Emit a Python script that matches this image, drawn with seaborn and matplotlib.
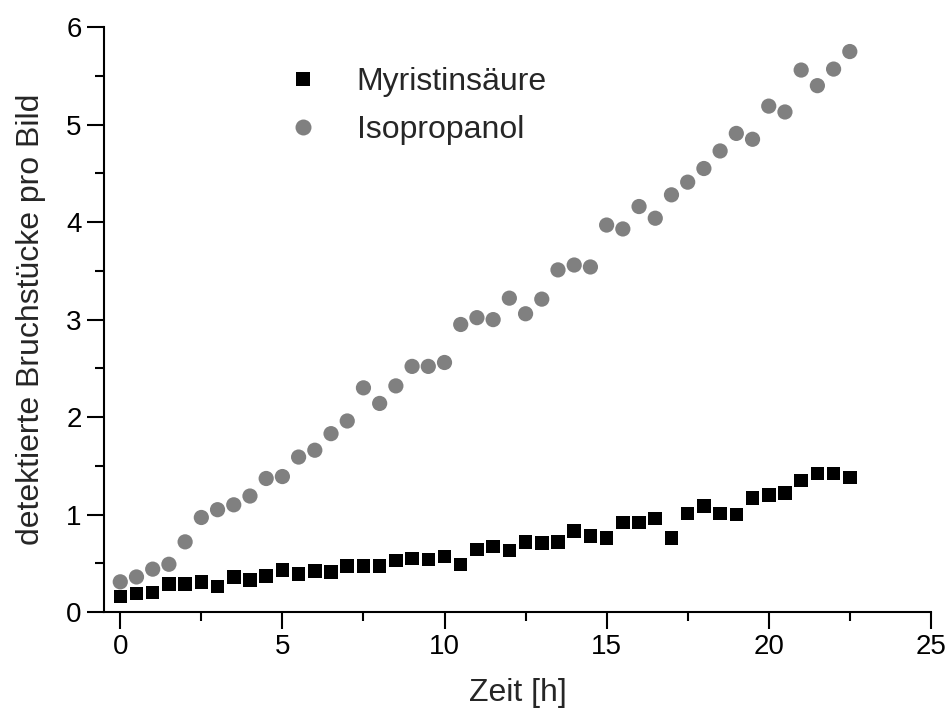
import numpy as np
import pandas as pd
import seaborn as sns
import matplotlib
matplotlib.use("Agg")
import matplotlib.pyplot as plt
from matplotlib.ticker import MultipleLocator

zeit = [i * 0.5 for i in range(46)]

myristinsaeure = [0.16, 0.19, 0.20, 0.29, 0.29, 0.31, 0.26, 0.36, 0.33, 0.37,
                  0.43, 0.39, 0.42, 0.41, 0.47, 0.47, 0.47, 0.53, 0.55, 0.54,
                  0.57, 0.49, 0.64, 0.67, 0.63, 0.72, 0.71, 0.72, 0.83, 0.78,
                  0.76, 0.92, 0.92, 0.96, 0.76, 1.01, 1.09, 1.01, 1.00, 1.17,
                  1.20, 1.22, 1.35, 1.42, 1.42, 1.38]

isopropanol = [0.31, 0.36, 0.44, 0.49, 0.72, 0.97, 1.05, 1.10, 1.19, 1.37,
               1.39, 1.59, 1.66, 1.83, 1.96, 2.30, 2.14, 2.32, 2.52, 2.52,
               2.56, 2.95, 3.02, 3.00, 3.22, 3.06, 3.21, 3.51, 3.56, 3.54,
               3.97, 3.93, 4.16, 4.04, 4.28, 4.41, 4.55, 4.73, 4.91, 4.85,
               5.19, 5.13, 5.56, 5.40, 5.57, 5.75]

series_names = ["Myristinsäure", "Isopropanol"]
xticks = [0, 5, 10, 15, 20, 25]
yticks = [0, 1, 2, 3, 4, 5, 6]

df = pd.DataFrame({
    "Zeit": zeit * 2,
    "Wert": myristinsaeure + isopropanol,
    "Serie": [series_names[0]] * len(zeit) + [series_names[1]] * len(zeit),
})

sns.set_theme(style="ticks")
plt.rcParams['font.family'] = ['Liberation Sans', 'DejaVu Sans']

fig = plt.figure(figsize=(9.46, 7.15), dpi=100)
ax = fig.add_axes([0.110, 0.144, 0.874, 0.818])

sns.scatterplot(data=df, x="Zeit", y="Wert", hue="Serie", style="Serie", size="Serie",
                hue_order=series_names, style_order=series_names, size_order=series_names,
                palette={"Myristinsäure": "#000000", "Isopropanol": "#808080"},
                markers={"Myristinsäure": "s", "Isopropanol": "o"},
                sizes={"Myristinsäure": 95, "Isopropanol": 120},
                linewidth=0, ax=ax, legend=True)

ax.set_xlim(-0.5, 25)
ax.set_ylim(0, 6)
ax.set_xticks(xticks)
ax.set_yticks(yticks)
ax.xaxis.set_minor_locator(MultipleLocator(2.5))
ax.yaxis.set_minor_locator(MultipleLocator(0.5))
ax.tick_params(which="major", direction="out", length=12, width=1.5, labelsize=20, colors="black", pad=4)
ax.tick_params(which="minor", direction="out", length=6.5, width=1.5, colors="black")

for side in ["top", "right"]:
    ax.spines[side].set_visible(False)
for side in ["left", "bottom"]:
    ax.spines[side].set_linewidth(1.5)
    ax.spines[side].set_color("black")

ax.set_xlabel("Zeit [h]", fontsize=23, labelpad=13)
ax.set_ylabel("detektierte Bruchstücke pro Bild", fontsize=23, labelpad=15)

leg = ax.legend(loc="upper left", bbox_to_anchor=(0.186, 0.981), frameon=False,
                fontsize=23, handlelength=1.0, handletextpad=1.2, labelspacing=0.56,
                borderpad=0.4)
for h, ms in zip(leg.legend_handles, [10.5, 11.5]):
    h.set_markersize(ms)

fig.savefig("out.png", dpi=100)
